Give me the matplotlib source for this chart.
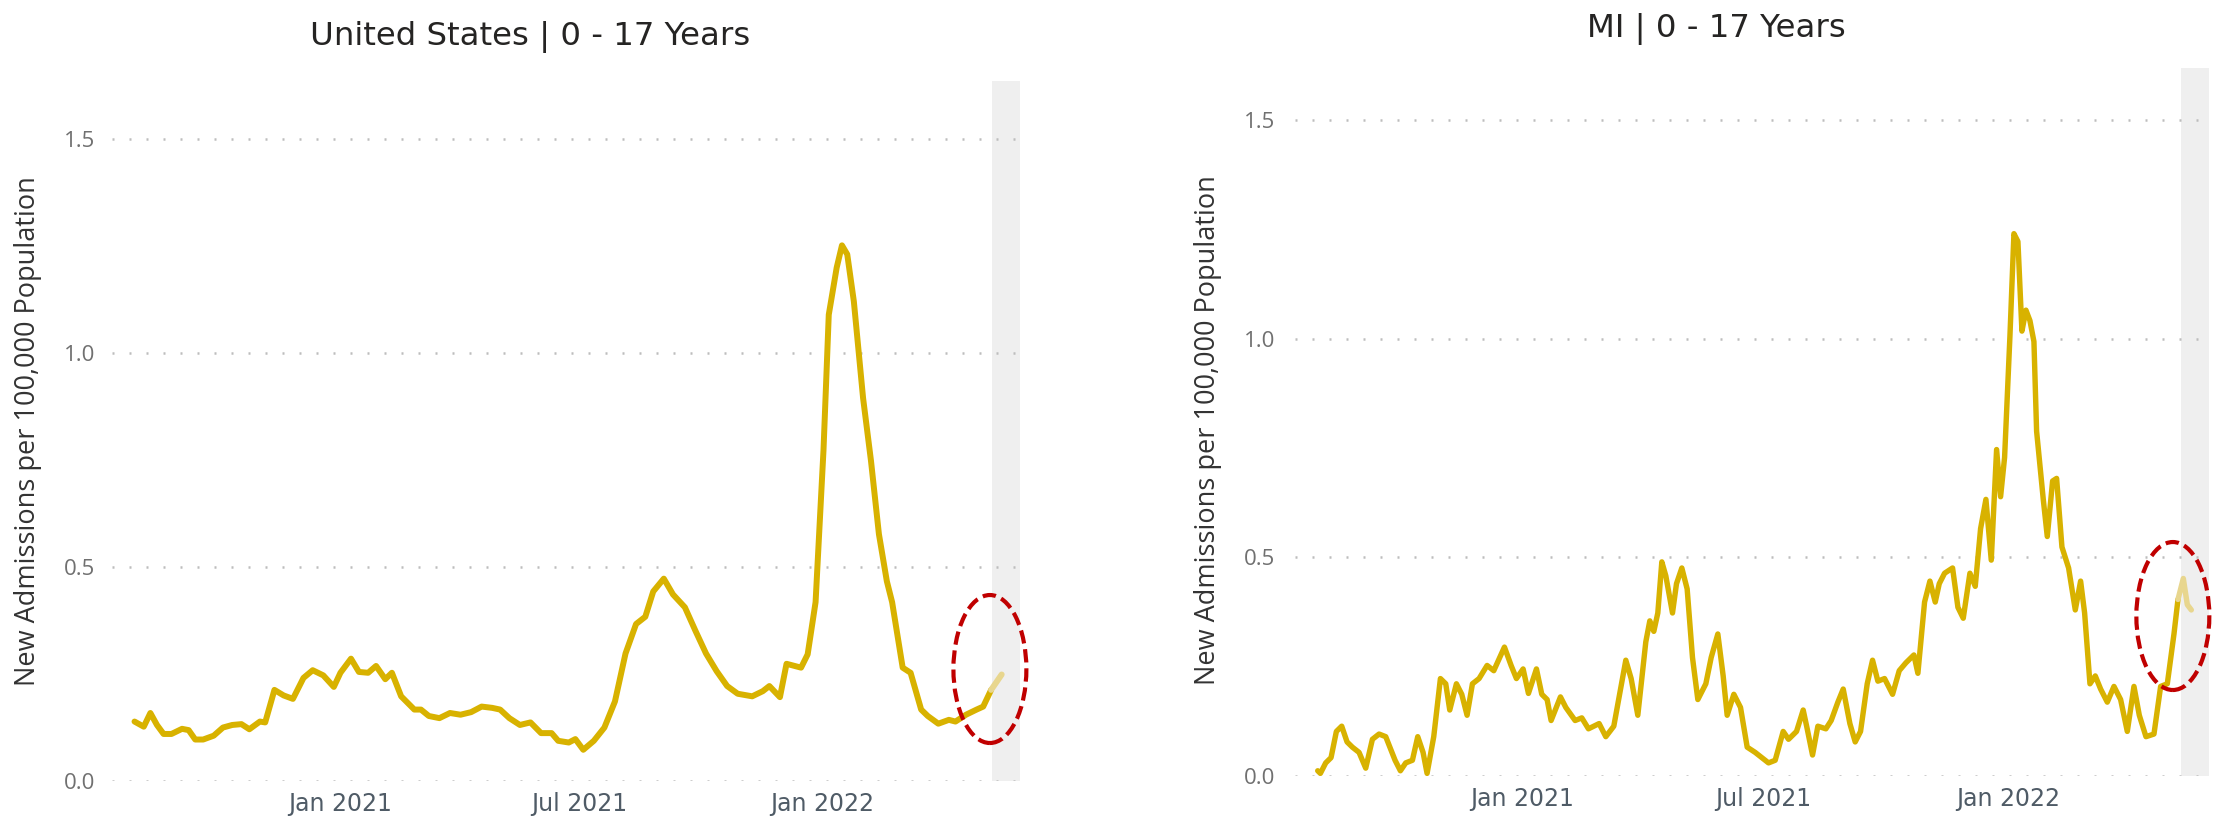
import matplotlib
matplotlib.use("Agg")
import matplotlib.pyplot as plt
import matplotlib.font_manager as fm
import pandas as pd
from matplotlib.patches import Ellipse

# ---------------- data ----------------
base_date = "2021-01-01"
us_days = [-156, -149, -144, -139, -134, -128, -120, -115, -110, -104, -96, -89, -82, -75, -69,
           -61, -57, -50, -43, -36, -28, -21, -13, -5, 0, 8, 14, 21, 27, 34, 39, 46, 56, 61, 67,
           75, 83, 91, 99, 107, 115, 121, 128, 136, 144, 152, 160, 165, 173, 178, 184, 192, 200,
           208, 216, 224, 231, 237, 245, 252, 261, 269, 277, 285, 293, 301, 312, 320, 325, 333,
           338, 349, 354, 360, 366, 370, 376, 380, 384, 389, 396, 402, 408, 414, 418, 426, 432,
           440, 445, 453, 461, 466, 474, 482, 487, 493, 501]
us_values = [0.139, 0.127, 0.159, 0.131, 0.110, 0.110, 0.122, 0.119, 0.097, 0.097, 0.106, 0.125,
             0.131, 0.133, 0.121, 0.139, 0.137, 0.213, 0.200, 0.192, 0.241, 0.259, 0.247, 0.220,
             0.253, 0.286, 0.255, 0.253, 0.269, 0.238, 0.253, 0.198, 0.167, 0.167, 0.152, 0.147,
             0.159, 0.155, 0.161, 0.174, 0.171, 0.167, 0.147, 0.131, 0.137, 0.112, 0.112, 0.094,
             0.090, 0.098, 0.073, 0.094, 0.125, 0.186, 0.298, 0.367, 0.384, 0.443, 0.473, 0.436,
             0.406, 0.351, 0.298, 0.257, 0.222, 0.204, 0.198, 0.210, 0.222, 0.196, 0.274, 0.265,
             0.296, 0.418, 0.773, 1.090, 1.200, 1.252, 1.231, 1.121, 0.895, 0.748, 0.577, 0.467,
             0.418, 0.265, 0.253, 0.167, 0.152, 0.134, 0.143, 0.139, 0.155, 0.167, 0.174, 0.213,
             0.249]

mi_days = [-153, -151, -147, -143, -139, -135, -131, -127, -122, -117, -112, -107, -102, -95, -91,
           -87, -82, -78, -74, -71, -66, -61, -57, -54, -49, -45, -41, -37, -32, -26, -21, -13,
           -8, -4, 1, 5, 11, 15, 19, 22, 29, 33, 40, 45, 50, 58, 63, 69, 73, 78, 82, 87, 93, 96,
           99, 102, 105, 108, 113, 116, 120, 124, 128, 132, 138, 142, 147, 151, 154, 159, 164,
           169, 175, 180, 185, 190, 196, 200, 206, 211, 214, 218, 222, 228, 232, 237, 241, 246,
           250, 254, 259, 263, 267, 272, 278, 283, 288, 294, 297, 302, 306, 310, 313, 317, 323,
           327, 331, 336, 340, 344, 348, 352, 356, 359, 362, 366, 369, 372, 375, 378, 381, 384,
           386, 391, 394, 398, 401, 405, 410, 415, 419, 422, 426, 430, 434, 439, 444, 449, 454,
           459, 463, 468, 474, 479, 484, 489, 492, 496, 499, 502]
mi_values = [0.012, 0.006, 0.030, 0.042, 0.102, 0.114, 0.078, 0.066, 0.054, 0.018, 0.084, 0.096,
             0.090, 0.036, 0.012, 0.030, 0.036, 0.090, 0.054, 0.006, 0.090, 0.223, 0.211, 0.151,
             0.211, 0.187, 0.139, 0.211, 0.223, 0.253, 0.241, 0.295, 0.253, 0.223, 0.245, 0.189,
             0.245, 0.187, 0.175, 0.127, 0.181, 0.157, 0.127, 0.133, 0.108, 0.120, 0.090, 0.114,
             0.181, 0.265, 0.223, 0.139, 0.307, 0.355, 0.331, 0.373, 0.490, 0.458, 0.373, 0.440,
             0.476, 0.428, 0.271, 0.175, 0.211, 0.271, 0.325, 0.229, 0.139, 0.187, 0.157, 0.066,
             0.054, 0.042, 0.030, 0.036, 0.102, 0.084, 0.102, 0.151, 0.108, 0.048, 0.114, 0.108,
             0.127, 0.169, 0.199, 0.120, 0.078, 0.102, 0.211, 0.265, 0.217, 0.223, 0.187, 0.241,
             0.259, 0.277, 0.235, 0.398, 0.446, 0.398, 0.440, 0.464, 0.476, 0.386, 0.361, 0.464,
             0.434, 0.566, 0.633, 0.494, 0.747, 0.639, 0.729, 1.006, 1.241, 1.223, 1.018, 1.066,
             1.042, 0.994, 0.789, 0.633, 0.548, 0.675, 0.681, 0.524, 0.476, 0.380, 0.446, 0.373,
             0.211, 0.229, 0.199, 0.169, 0.205, 0.175, 0.102, 0.205, 0.139, 0.090, 0.096, 0.205,
             0.211, 0.325, 0.404, 0.452, 0.392, 0.380]

titles = ["United States | 0 - 17 Years", "MI | 0 - 17 Years"]
y_label = "New Admissions per 100,000 Population"
y_ticks = [0.0, 0.5, 1.0, 1.5]
y_tick_labels = ["0.0", "0.5", "1.0", "1.5"]
x_tick_dates = ["2021-01-01", "2021-07-01", "2022-01-01"]
x_tick_labels = ["Jan 2021", "Jul 2021", "Jan 2022"]
band_start, band_end = "2022-05-10", "2022-05-31"
provisional_from_day = 492

# ---------------- style ----------------
def has_font(name):
    try:
        fm.findfont(fm.FontProperties(family=name), fallback_to_default=False)
        return True
    except Exception:
        return False

label_font = "Open Sans" if has_font("Open Sans") else "DejaVu Sans"
main_font = "DejaVu Sans"

LINE = "#D8B200"
FADED = "#E8D68E"
BAND = "#EFEFEF"
GRID = "#BDBDBD"

fig = plt.figure(figsize=(22.24, 8.23), dpi=100)
fig.patch.set_facecolor("white")

panels = [
    dict(days=us_days, vals=us_values, rect=[0.0504, 0.0510, 0.4083, 0.8505], ylim=1.636,
         xlim=(-173, 515), title_xy=(0.2385, 0.955), ylabel_xy=(0.0126, 0.476), lw=4.3,
         ell=(0.4451, 0.1871), ypad=12),
    dict(days=mi_days, vals=mi_values, rect=[0.5823, 0.0571, 0.4114, 0.8597], ylim=1.619,
         xlim=(-170, 516), title_xy=(0.7716, 0.965), ylabel_xy=(0.5432, 0.477), lw=3.9,
         ell=(0.9770, 0.2515), ypad=14),
]

base = pd.Timestamp(base_date)
for p, title in zip(panels, titles):
    ax = fig.add_axes(p["rect"])
    days = list(p["days"])
    dates = base + pd.to_timedelta(days, unit="D")
    vals = list(p["vals"])
    # split into confirmed and provisional (faded) parts, sharing one point
    k = next(i for i, d in enumerate(days) if d >= provisional_from_day)
    ax.axvspan(pd.Timestamp(band_start), pd.Timestamp(band_end), color=BAND, zorder=0, lw=0)
    ax.plot(dates[:k + 1], vals[:k + 1], color=LINE, lw=p["lw"], solid_joinstyle="round",
            solid_capstyle="round", zorder=3)
    ax.plot(dates[k:], vals[k:], color=FADED, lw=p["lw"], solid_joinstyle="round",
            solid_capstyle="round", zorder=3)
    ax.set_xlim(base + pd.Timedelta(days=p["xlim"][0]), base + pd.Timedelta(days=p["xlim"][1]))
    ax.set_ylim(0, p["ylim"])
    ax.set_yticks(y_ticks)
    ax.set_yticklabels(y_tick_labels, fontfamily=label_font, fontsize=16, color="#707070")
    ax.set_xticks([pd.Timestamp(d) for d in x_tick_dates])
    ax.set_xticklabels(x_tick_labels, fontfamily=main_font, fontsize=17, color="#4F5B66")
    ax.tick_params(axis="both", length=0)
    ax.tick_params(axis="y", pad=p["ypad"])
    ax.tick_params(axis="x", pad=8)
    ax.grid(axis="y", color=GRID, linestyle=(0, (0.8, 6.0)), linewidth=1.8, zorder=1)
    ax.grid(axis="x", visible=False)
    for sp in ax.spines.values():
        sp.set_visible(False)
    ax.patch.set_alpha(0)
    fig.text(p["title_xy"][0], p["title_xy"][1], title, ha="center", va="center",
             fontfamily=main_font, fontsize=23.3, color="#252423")
    fig.text(p["ylabel_xy"][0], p["ylabel_xy"][1], y_label, rotation=90,
             ha="center", va="center", fontfamily=label_font, fontsize=19.5, color="#333333")
    e = Ellipse(p["ell"], 0.0328, 0.1798, transform=fig.transFigure, fill=False,
                edgecolor="#C00000", lw=3.0, linestyle=(0, (3.2, 1.4)), zorder=10)
    fig.add_artist(e)

fig.savefig("out.png", dpi=100, facecolor="white")
